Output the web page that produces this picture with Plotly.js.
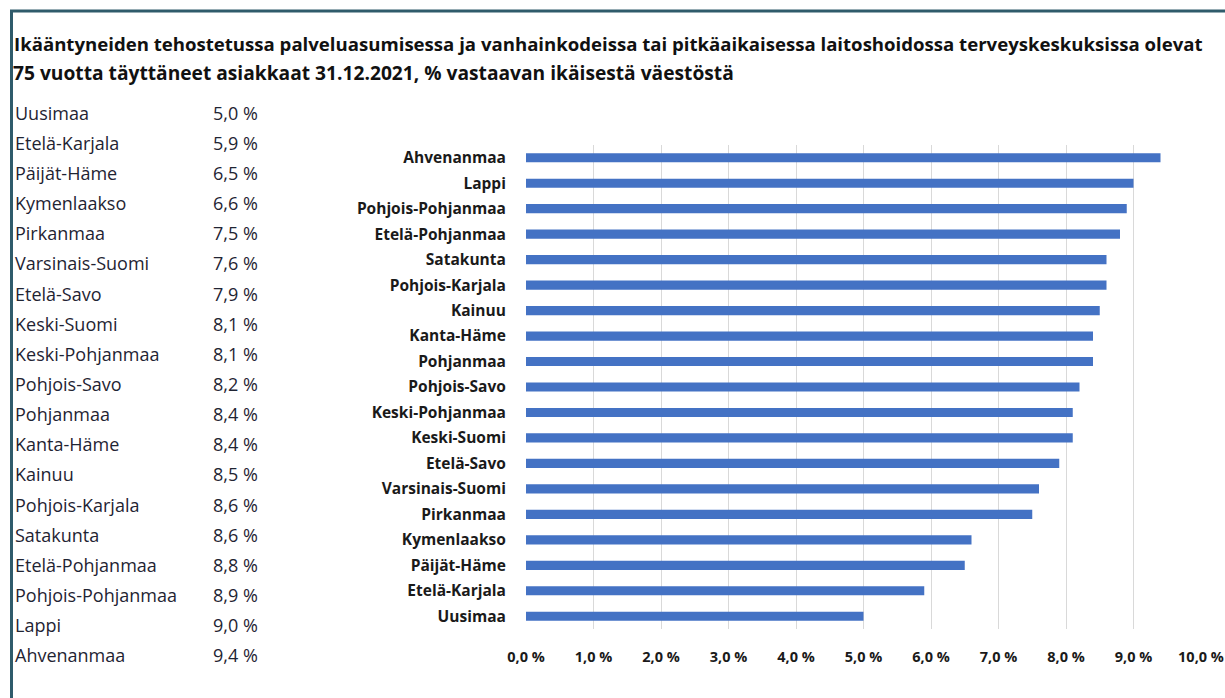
<!DOCTYPE html>
<html>
<head>
<meta charset="utf-8">
<script src="https://cdn.plot.ly/plotly-3.0.1.min.js"></script>
<style>html,body{margin:0;padding:0;background:#fff;}#chart{width:1225px;height:698px;}</style>
</head>
<body>
<div id="chart"></div>
<script>
// Regions in ascending order of share
const regions = ["Uusimaa","Etelä-Karjala","Päijät-Häme","Kymenlaakso","Pirkanmaa","Varsinais-Suomi","Etelä-Savo","Keski-Suomi","Keski-Pohjanmaa","Pohjois-Savo","Pohjanmaa","Kanta-Häme","Kainuu","Pohjois-Karjala","Satakunta","Etelä-Pohjanmaa","Pohjois-Pohjanmaa","Lappi","Ahvenanmaa"];
const shares = [5.0,5.9,6.5,6.6,7.5,7.6,7.9,8.1,8.1,8.2,8.4,8.4,8.5,8.6,8.6,8.8,8.9,9.0,9.4];
const xTickVals = [0,1,2,3,4,5,6,7,8,9,10];
const xTickText = ["0,0 %","1,0 %","2,0 %","3,0 %","4,0 %","5,0 %","6,0 %","7,0 %","8,0 %","9,0 %","10,0 %"];
const titleLine1 = "Ikääntyneiden tehostetussa palveluasumisessa ja vanhainkodeissa tai pitkäaikaisessa laitoshoidossa terveyskeskuksissa olevat";
const titleLine2 = "75 vuotta täyttäneet asiakkaat 31.12.2021, % vastaavan ikäisestä väestöstä";

const fmt = v => v.toFixed(1).replace(".", ",") + "\u00a0%";

// geometry (pixels)
const W = 1225, H = 698;
const L = 10, R = 24, T = 100, B = 25;
const PW = W - L - R, PH = H - T - B;
const px2x = p => (p - L) / PW;
const py2y = p => (H - B - p) / PH;

const FONT = "'Open Sans', 'Noto Sans', sans-serif";

const bars = {
  type: "bar", orientation: "h",
  x: shares, y: regions,
  marker: {color: "#4472C4"},
  xaxis: "x", yaxis: "y",
  hoverinfo: "x+y"
};
const tableNames = {
  type: "scatter", mode: "text",
  x: regions.map(() => 5), y: regions,
  text: regions, textposition: "middle right",
  textfont: {family: FONT, size: 18, color: "#1f2433"},
  xaxis: "x2", yaxis: "y2", hoverinfo: "skip", cliponaxis: false
};
const tableVals = {
  type: "scatter", mode: "text",
  x: regions.map(() => 203), y: regions,
  text: shares.map(fmt), textposition: "middle right",
  textfont: {family: FONT, size: 18, color: "#1f2433"},
  xaxis: "x2", yaxis: "y2", hoverinfo: "skip", cliponaxis: false
};

const layout = {
  width: W, height: H,
  margin: {l: L, r: R, t: T, b: B},
  paper_bgcolor: "#fff", plot_bgcolor: "rgba(0,0,0,0)",
  showlegend: false,
  bargap: 0.64,
  font: {family: FONT, color: "#1a1a1a"},
  title: {
    text: "<b>" + titleLine1 + "</b>",
    font: {size: 18.6, color: "#111"},
    x: 14 / W, xanchor: "left", xref: "container",
    y: 1 - 44 / H, yanchor: "middle", yref: "container"
  },
  annotations: [{
    text: "<b>" + titleLine2 + "</b>",
    xref: "paper", yref: "paper",
    x: px2x(11), y: py2y(72), xanchor: "left", yanchor: "middle",
    showarrow: false, font: {size: 19.2, color: "#111"}
  }],
  xaxis: {
    domain: [px2x(526), 1],
    range: [0, 10],
    tickvals: xTickVals, ticktext: xTickText,
    showgrid: true, gridcolor: "#d9d9d9", gridwidth: 1,
    zeroline: false, showline: false,
    ticks: "outside", ticklen: 15, tickcolor: "rgba(0,0,0,0)",
    tickfont: {size: 14.5, color: "#1a1a1a", weight: "bold"},
    fixedrange: true
  },
  yaxis: {
    domain: [py2y(629), py2y(145)],
    type: "category",
    showgrid: false, zeroline: false, showline: false,
    ticks: "outside", ticklen: 16, tickcolor: "rgba(0,0,0,0)",
    tickfont: {size: 15.5, color: "#1a1a1a", weight: "bold"},
    fixedrange: true
  },
  xaxis2: {
    domain: [0, px2x(360)], range: [0, 350],
    visible: false, fixedrange: true
  },
  yaxis2: {
    domain: [0, 1], type: "category",
    range: [regions.length - 0.5, -0.5],
    visible: false, fixedrange: true
  },
  shapes: [
    {type: "line", xref: "paper", yref: "paper",
     x0: px2x(10), x1: px2x(1225 + 5), y0: py2y(11), y1: py2y(11),
     line: {color: "#2f5b6b", width: 3}},
    {type: "line", xref: "paper", yref: "paper",
     x0: px2x(11.5), x1: px2x(11.5), y0: py2y(10), y1: py2y(700),
     line: {color: "#2f5b6b", width: 3}}
  ]
};

Plotly.newPlot("chart", [bars, tableNames, tableVals], layout, {displayModeBar: false, staticPlot: true});
</script>
</body>
</html>
